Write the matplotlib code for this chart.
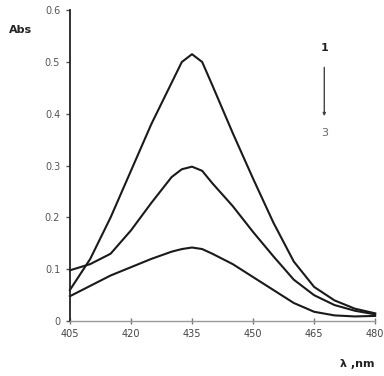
import matplotlib
matplotlib.use("Agg")
import matplotlib.pyplot as plt

# wavelength (nm) and absorbance of the three spectra
wavelength = [405, 410, 415, 420, 425, 430, 432.5, 435, 437.5, 440, 445, 450, 455, 460, 465, 470, 475, 480]
abs_1 = [0.060, 0.120, 0.200, 0.290, 0.380, 0.460, 0.500, 0.515, 0.500, 0.455, 0.363, 0.275, 0.190, 0.115, 0.066, 0.040, 0.024, 0.015]
abs_2 = [0.098, 0.110, 0.130, 0.175, 0.228, 0.278, 0.293, 0.298, 0.290, 0.266, 0.222, 0.172, 0.125, 0.080, 0.050, 0.031, 0.020, 0.013]
abs_3 = [0.048, 0.068, 0.088, 0.104, 0.120, 0.134, 0.139, 0.142, 0.139, 0.130, 0.110, 0.085, 0.060, 0.035, 0.018, 0.011, 0.009, 0.010]

x_ticks = [405, 420, 435, 450, 465, 480]
y_ticks = [0, 0.1, 0.2, 0.3, 0.4, 0.5, 0.6]
y_labels = ['0', '0.1', '0.2', '0.3', '0.4', '0.5', '0.6']

fig = plt.figure(figsize=(3.84, 3.76), dpi=100)
ax = fig.add_axes([0.182, 0.146, 0.795, 0.827])

for ys in (abs_1, abs_2, abs_3):
    ax.plot(wavelength, ys, color='#1a1a1a', linewidth=1.5,
            solid_joinstyle='round', clip_on=False)

ax.set_xlim(405, 480)
ax.set_ylim(0, 0.6)
ax.set_xticks(x_ticks)
ax.set_xticklabels([str(t) for t in x_ticks])
ax.set_yticks(y_ticks)
ax.set_yticklabels(y_labels)

for s in ('top', 'right'):
    ax.spines[s].set_visible(False)
ax.spines['left'].set_color('#222222')
ax.spines['left'].set_linewidth(1.3)
ax.spines['bottom'].set_color('#999999')
ax.spines['bottom'].set_linewidth(1.0)

ax.tick_params(axis='x', direction='inout', length=5, width=1, color='#777777',
               labelsize=7, labelcolor='#444444', pad=3)
ax.tick_params(axis='y', direction='out', length=3, width=1, color='#555555',
               labelsize=7, labelcolor='#555555', pad=4)

fig.text(0.022, 0.912, 'Abs', fontsize=8, fontweight='bold', color='#222222')
fig.text(0.885, 0.025, 'λ ,nm', fontsize=8, fontweight='bold', color='#222222')

# 1 -> 3 arrow
ax.text(467.5, 0.527, '1', fontsize=8, fontweight='bold', color='#222222', ha='center', va='center')
ax.annotate('', xy=(467.5, 0.39), xytext=(467.5, 0.495),
            arrowprops=dict(arrowstyle='-|>', color='#444444', lw=1, mutation_scale=4))
ax.text(467.5, 0.363, '3', fontsize=8, color='#666666', ha='center', va='center')

fig.savefig('out.png', dpi=100)
